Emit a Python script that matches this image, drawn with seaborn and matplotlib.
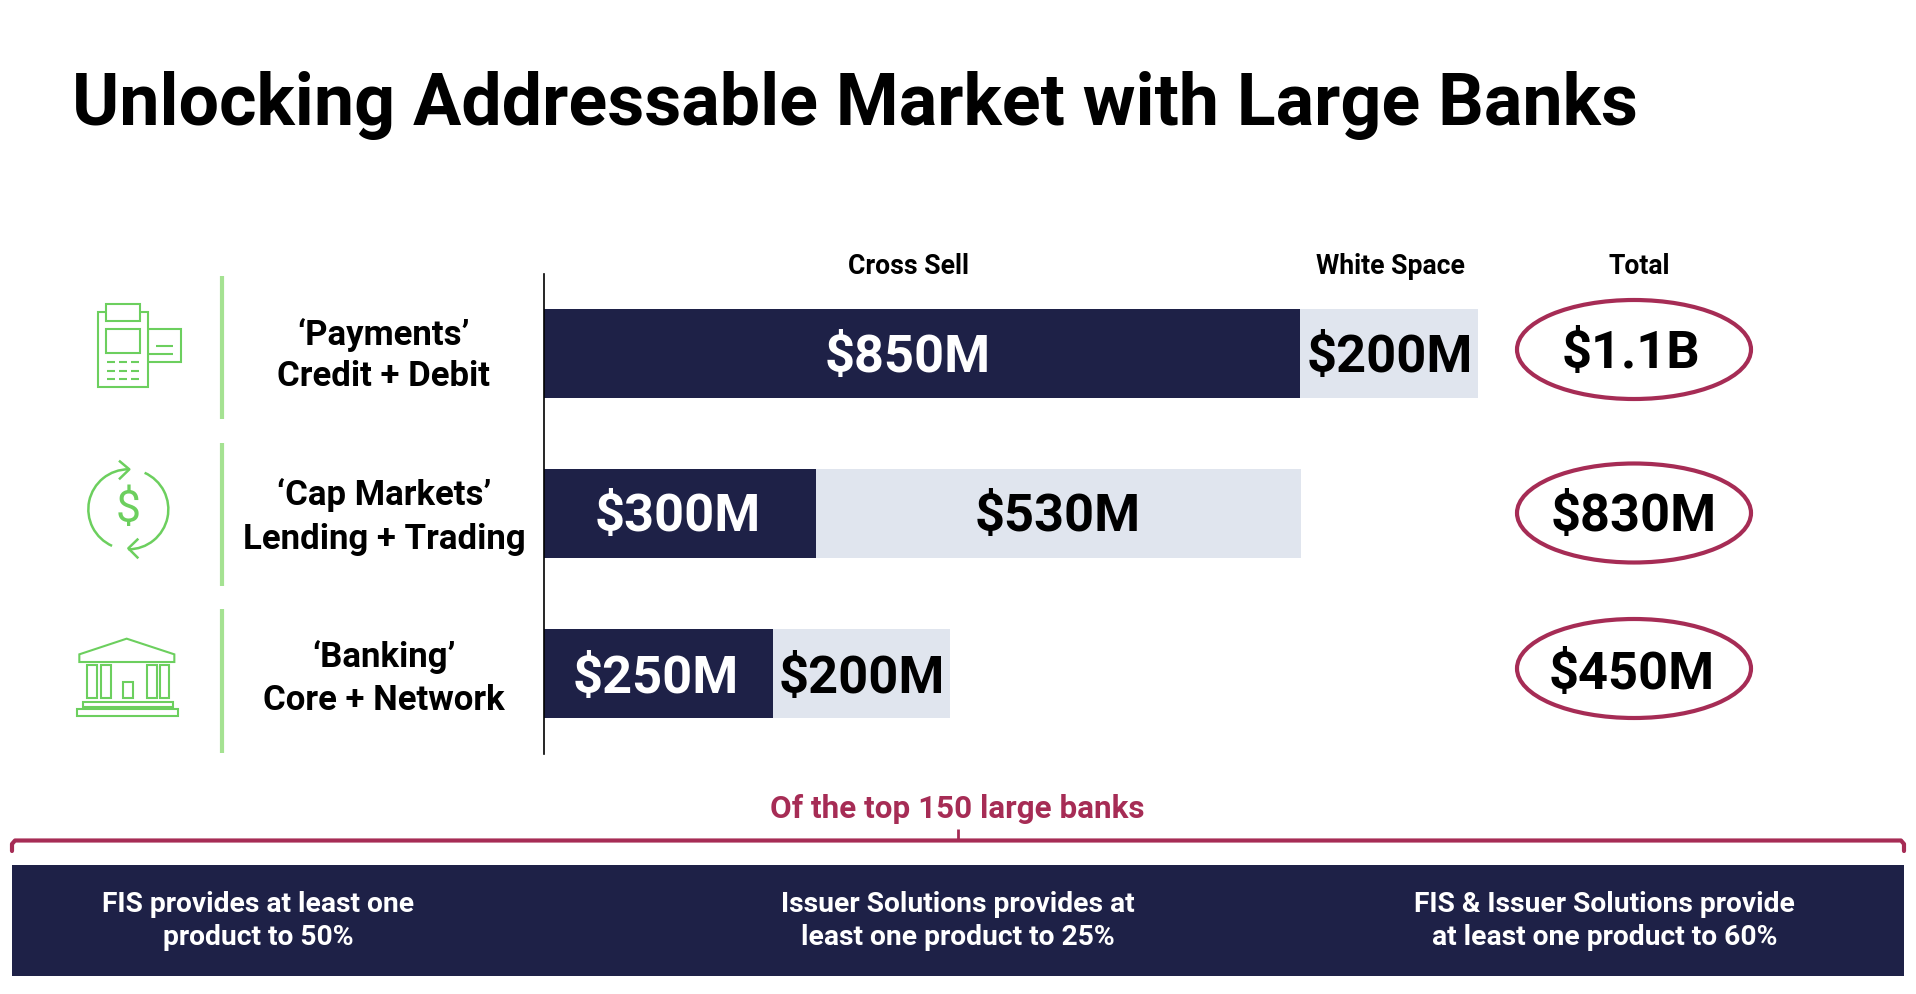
import matplotlib
matplotlib.use("Agg")
import matplotlib.pyplot as plt
from matplotlib.patches import Rectangle, Ellipse, Arc, Polygon
import numpy as np
import pandas as pd
import seaborn as sns

# Data
rows = ["Payments", "Cap Markets", "Banking"]
row_labels = ["‘Payments’\nCredit + Debit", "‘Cap Markets’\nLending + Trading", "‘Banking’\nCore + Network"]
# bar lengths, it is not quite drawn to scale with its labels
cross_sell = [840, 303, 255]
white_space = [198, 539, 197]
cross_labels = ["$850M", "$300M", "$250M"]
white_labels = ["$200M", "$530M", "$200M"]
total_labels = ["$1.1B", "$830M", "$450M"]
footer_texts = [
    "FIS provides at least one\nproduct to 50%",
    "Issuer Solutions provides at\nleast one product to 25%",
    "FIS & Issuer Solutions provide\nat least one product to 60%",
]

NAVY = "#1E2147"
LIGHT = "#E0E5EE"
BERRY = "#A62C55"
GREEN = "#6CCF5E"
PALE_GREEN = "#A5E292"

W, H = 1916, 994

sns.set_theme(style="white")
plt.rcParams["font.family"] = ["Roboto", "DejaVu Sans"]

df = pd.DataFrame({"row": rows, "cross": cross_sell, "white": white_space})
df["total"] = df["cross"] + df["white"]

fig = plt.figure(figsize=(W / 100, H / 100), dpi=100, facecolor="white")

# Bars, 0.9 px per unit
ax = fig.add_axes([543.5 / W, 1 - 753.5 / H, 956 / W, 480 / H])
sns.barplot(data=df, y="row", x="total", color=LIGHT, saturation=1, width=0.557, linewidth=0, ax=ax)
sns.barplot(data=df, y="row", x="cross", color=NAVY, saturation=1, width=0.557, linewidth=0, ax=ax)
ax.set_xlim(0, 956 / 0.9)
ax.set_xlabel("")
ax.set_ylabel("")
ax.set_xticks([])
ax.set_yticks([])
sns.despine(ax=ax, top=True, right=True, bottom=True)
ax.spines["left"].set_color("black")
ax.spines["left"].set_linewidth(1.2)

# Everything else goes on an overlay in pixel coordinates
ov = fig.add_axes([0, 0, 1, 1], zorder=5)
ov.set_xlim(0, W)
ov.set_ylim(H, 0)
ov.axis("off")
ov.patch.set_alpha(0)

ov.text(72, 105, "Unlocking Addressable Market with Large Banks", fontsize=51.7, fontweight="bold",
        color="black", ha="left", va="center")

# Column headers
for x, t in zip([909, 1390, 1639], ["Cross Sell", "White Space", "Total"]):
    ov.text(x, 266, t, fontsize=19.2, fontweight="bold", color="black", ha="center", va="center")

# Separators and row labels
for y0, y1 in [(276, 419), (443, 586), (609, 753)]:
    ov.plot([222, 222], [y0, y1], color=PALE_GREEN, lw=3, solid_capstyle="butt")
label_y = [[335, 377], [495, 540], [657, 700]]
for lab, ys in zip(row_labels, label_y):
    parts = lab.split("\n")
    for t, y in zip(parts, ys):
        ov.text(384, y, t, fontsize=25, fontweight="bold", color="black", ha="center", va="center")

# Value labels
cross_x = [908, 678, 656]
white_x = [1390, 1058, 861.5]
bar_y = [358, 517, 678.5]
for i in range(3):
    ov.text(cross_x[i], bar_y[i], cross_labels[i], fontsize=37.7, fontweight="bold", color="white",
            ha="center", va="center")
    ov.text(white_x[i], bar_y[i], white_labels[i], fontsize=37.7, fontweight="bold", color="black",
            ha="center", va="center")

# Totals in ellipses
ell_y = [349.5, 513, 668.5]
total_x = [1631, 1634, 1632]
total_y = [354, 517, 675]
for i in range(3):
    ov.add_patch(Ellipse((1634, ell_y[i]), 234, 99, fill=False, edgecolor=BERRY, lw=3))
    ov.text(total_x[i], total_y[i], total_labels[i], fontsize=37.7, fontweight="bold", color="black",
            ha="center", va="center")


def z(x, y):
    # icon coordinates were taken from a 3x crop at (40, 250)
    return 40 + x / 3, 250 + y / 3


def zbox(x0, y0, x1, y1, fc="none"):
    px, py = z(x0, y0)
    ov.add_patch(Rectangle((px, py), (x1 - x0) / 3, (y1 - y0) / 3, fill=fc != "none", facecolor=fc,
                           edgecolor=GREEN, lw=1.5))


def zline(pts, **kws):
    xy = [z(*p) for p in pts]
    ov.plot([p[0] for p in xy], [p[1] for p in xy], color=GREEN, lw=kws.get("lw", 1.5),
            ls=kws.get("ls", "-"), solid_capstyle="butt")


# Card terminal icon
zbox(325, 237, 424, 337)
zbox(174, 187, 325, 411, fc="white")
zbox(198, 162, 300, 212, fc="white")
zbox(198, 237, 300, 310)
zline([(348, 287), (398, 287)])
zline([(325, 312), (398, 312)])
for yy in [337, 362, 386]:
    for xx in [200, 237, 274]:
        zline([(xx, yy), (xx + 24, yy)])

# Dollar cycle icon, angles run clockwise on screen because the y axis is flipped
cx, cy = z(265, 778)
ov.add_patch(Arc((cx, cy), 80, 80, theta1=114, theta2=270, edgecolor=GREEN, lw=1.8))
ov.add_patch(Arc((cx, cy), 80, 80, theta1=-66, theta2=90, edgecolor=GREEN, lw=1.8))
zline([(237, 632), (268, 658), (237, 688)], lw=1.8)
zline([(295, 866), (265, 895), (295, 925)], lw=1.8)
ov.text(cx, cy + 1, "$", fontsize=32, color=GREEN, ha="center", va="center", fontfamily="Roboto", fontweight="normal")

# Bank icon
roof = [z(118, 1236), z(118, 1213), z(260, 1166), z(403, 1213), z(403, 1236)]
ov.add_patch(Polygon(roof, closed=True, fill=False, edgecolor=GREEN, lw=1.5))
for x0, x1 in [(142, 172), (182, 212), (320, 350), (360, 388)]:
    zbox(x0, 1244, x1, 1345)
zbox(250, 1295, 280, 1345)
zbox(128, 1356, 400, 1372)
zbox(110, 1378, 415, 1397)

# Bracket
ov.text(957, 809, "Of the top 150 large banks", fontsize=22.6, fontweight="bold", color=BERRY,
        ha="center", va="center")
ov.plot([12, 12, 15, 1901, 1904, 1904], [851, 844, 840.5, 840.5, 844, 851], color=BERRY, lw=3,
        solid_joinstyle="round")
ov.plot([958, 958], [829, 840.5], color=BERRY, lw=2, solid_capstyle="butt")

# Footer
ov.add_patch(Rectangle((12, 865), 1892, 111, facecolor=NAVY, edgecolor="none"))
for x, t in zip([258, 957.5, 1604.5], footer_texts):
    for line, y in zip(t.split("\n"), [904.5, 937.5]):
        ov.text(x, y, line, fontsize=20.3, fontweight="bold", color="white", ha="center", va="center")

fig.savefig("out.png", dpi=100)
